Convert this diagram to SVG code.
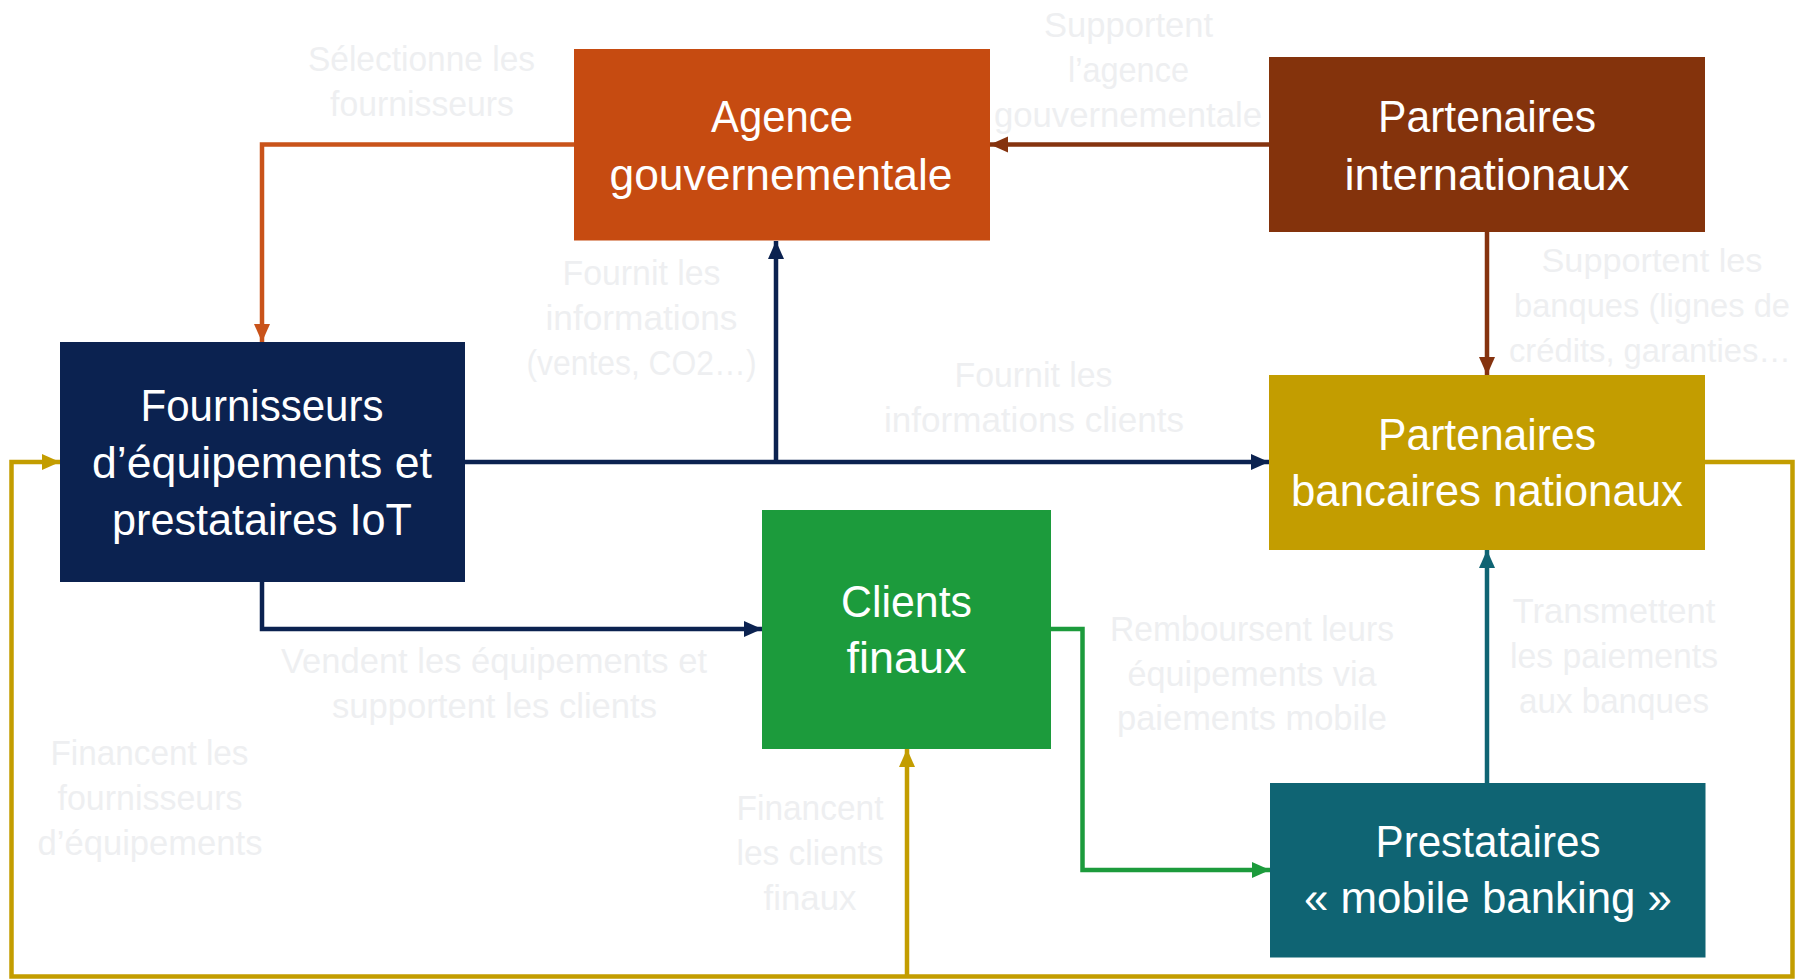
<svg xmlns="http://www.w3.org/2000/svg" width="1795" height="979" viewBox="0 0 1795 979">
<style>
.nt{font-family:"Liberation Sans",Arial,sans-serif;font-size:44px;fill:#FFFFFF;text-anchor:middle}
.el{font-family:"Liberation Sans",Arial,sans-serif;font-size:35px;fill:#EEEFF1;text-anchor:middle}
.sm{font-size:32.5px}
.c{fill:none;stroke-width:4.5;stroke-linejoin:miter}
</style>
<defs>
<marker id="aOr" markerUnits="userSpaceOnUse" markerWidth="20" markerHeight="20" viewBox="0 0 20 20" refX="18" refY="10" orient="auto"><path d="M0,2 L18,10 L0,18 Z" fill="#C9531A"/></marker>
<marker id="aBr" markerUnits="userSpaceOnUse" markerWidth="20" markerHeight="20" viewBox="0 0 20 20" refX="18" refY="10" orient="auto"><path d="M0,2 L18,10 L0,18 Z" fill="#85330F"/></marker>
<marker id="aNv" markerUnits="userSpaceOnUse" markerWidth="20" markerHeight="20" viewBox="0 0 20 20" refX="18" refY="10" orient="auto"><path d="M0,2 L18,10 L0,18 Z" fill="#0B2250"/></marker>
<marker id="aGr" markerUnits="userSpaceOnUse" markerWidth="20" markerHeight="20" viewBox="0 0 20 20" refX="18" refY="10" orient="auto"><path d="M0,2 L18,10 L0,18 Z" fill="#1C9B3C"/></marker>
<marker id="aTl" markerUnits="userSpaceOnUse" markerWidth="20" markerHeight="20" viewBox="0 0 20 20" refX="18" refY="10" orient="auto"><path d="M0,2 L18,10 L0,18 Z" fill="#0F6473"/></marker>
<marker id="aGd" markerUnits="userSpaceOnUse" markerWidth="20" markerHeight="20" viewBox="0 0 20 20" refX="18" refY="10" orient="auto"><path d="M0,2 L18,10 L0,18 Z" fill="#C39D00"/></marker>
</defs>
<rect width="1795" height="979" fill="#FFFFFF"/>

<g id="connectors">
<path class="c" stroke="#C9531A" d="M574,144.5 H262 V342" marker-end="url(#aOr)"/>
<path class="c" stroke="#85330F" d="M1269,144.5 H990" marker-end="url(#aBr)"/>
<path class="c" stroke="#85330F" d="M1487,232 V375" marker-end="url(#aBr)"/>
<path class="c" stroke="#0B2250" d="M465,462 H1269" marker-end="url(#aNv)"/>
<path class="c" stroke="#0B2250" d="M776,462 V241" marker-end="url(#aNv)"/>
<path class="c" stroke="#0B2250" d="M262,582 V629 H762" marker-end="url(#aNv)"/>
<path class="c" stroke="#1C9B3C" d="M1051,629 H1082.5 V870 H1270" marker-end="url(#aGr)"/>
<path class="c" stroke="#0F6473" d="M1487,783 V550" marker-end="url(#aTl)"/>
<path class="c" stroke="#C39D00" stroke-width="3.5" d="M1705,462 H1792.5 V976.5 H11.5 V462 H60" marker-end="url(#aGd)"/>
<path class="c" stroke="#C39D00" stroke-width="3.5" d="M907,976.5 V749" marker-end="url(#aGd)"/>
</g>

<g id="agence">
<rect x="574" y="49" width="416" height="191.5" fill="#C64B11"/>
<text class="nt" x="782" y="131.5" textLength="142" lengthAdjust="spacingAndGlyphs">Agence</text>
<text class="nt" x="781" y="190" textLength="343" lengthAdjust="spacingAndGlyphs">gouvernementale</text>
</g>

<g id="internationaux">
<rect x="1269" y="57" width="436" height="175" fill="#84330C"/>
<text class="nt" x="1487" y="131.5" textLength="218" lengthAdjust="spacingAndGlyphs">Partenaires</text>
<text class="nt" x="1487" y="189.5" textLength="285" lengthAdjust="spacingAndGlyphs">internationaux</text>
</g>

<g id="bancaires">
<rect x="1269" y="375" width="436" height="175" fill="#C39D00"/>
<text class="nt" x="1487" y="449.5" textLength="218" lengthAdjust="spacingAndGlyphs">Partenaires</text>
<text class="nt" x="1487" y="506" textLength="392" lengthAdjust="spacingAndGlyphs">bancaires nationaux</text>
</g>

<g id="fournisseurs">
<rect x="60" y="342" width="405" height="240" fill="#0B2250"/>
<text class="nt" x="262" y="421" textLength="243" lengthAdjust="spacingAndGlyphs">Fournisseurs</text>
<text class="nt" x="262" y="477.5" textLength="340" lengthAdjust="spacingAndGlyphs">d’équipements et</text>
<text class="nt" x="262" y="535" textLength="300" lengthAdjust="spacingAndGlyphs">prestataires IoT</text>
</g>

<g id="clients">
<rect x="762" y="510" width="289" height="239" fill="#1C9B3C"/>
<text class="nt" x="906.5" y="617" textLength="131" lengthAdjust="spacingAndGlyphs">Clients</text>
<text class="nt" x="906.5" y="672.5" textLength="120" lengthAdjust="spacingAndGlyphs">finaux</text>
</g>

<g id="mobile">
<rect x="1270" y="783" width="435.5" height="174.5" fill="#0F6473"/>
<text class="nt" x="1488" y="856.5" textLength="225" lengthAdjust="spacingAndGlyphs">Prestataires</text>
<text class="nt" x="1488" y="913" textLength="368" lengthAdjust="spacingAndGlyphs">« mobile banking »</text>
</g>

<g id="labels">
<text class="el" x="421.5" y="70.5" textLength="227" lengthAdjust="spacingAndGlyphs">Sélectionne les</text>
<text class="el" x="422" y="115.5" textLength="184" lengthAdjust="spacingAndGlyphs">fournisseurs</text>

<text class="el" x="1128.5" y="36.5" textLength="169" lengthAdjust="spacingAndGlyphs">Supportent</text>
<text class="el" x="1128.5" y="81.5" textLength="121" lengthAdjust="spacingAndGlyphs">l’agence</text>
<text class="el" x="1128" y="127" textLength="268" lengthAdjust="spacingAndGlyphs">gouvernementale</text>

<text class="el sm" x="1652" y="271.5" textLength="221" lengthAdjust="spacingAndGlyphs">Supportent les</text>
<text class="el sm" x="1652" y="316.5" textLength="276" lengthAdjust="spacingAndGlyphs">banques (lignes de</text>
<text class="el sm" x="1650" y="361.5" textLength="282" lengthAdjust="spacingAndGlyphs">crédits, garanties…</text>

<text class="el" x="641.5" y="285" textLength="158" lengthAdjust="spacingAndGlyphs">Fournit les</text>
<text class="el" x="641.5" y="330" textLength="192" lengthAdjust="spacingAndGlyphs">informations</text>
<text class="el" x="641.5" y="375" textLength="230" lengthAdjust="spacingAndGlyphs">(ventes, CO2…)</text>

<text class="el" x="1033.5" y="386.5" textLength="158" lengthAdjust="spacingAndGlyphs">Fournit les</text>
<text class="el" x="1034" y="431.5" textLength="300" lengthAdjust="spacingAndGlyphs">informations clients</text>

<text class="el" x="494" y="673" textLength="426" lengthAdjust="spacingAndGlyphs">Vendent les équipements et</text>
<text class="el" x="494.5" y="718" textLength="325" lengthAdjust="spacingAndGlyphs">supportent les clients</text>

<text class="el" x="149.5" y="765" textLength="198" lengthAdjust="spacingAndGlyphs">Financent les</text>
<text class="el" x="150" y="810" textLength="185" lengthAdjust="spacingAndGlyphs">fournisseurs</text>
<text class="el" x="150" y="855" textLength="225" lengthAdjust="spacingAndGlyphs">d’équipements</text>

<text class="el" x="810" y="819.5" textLength="147" lengthAdjust="spacingAndGlyphs">Financent</text>
<text class="el" x="810" y="865" textLength="147" lengthAdjust="spacingAndGlyphs">les clients</text>
<text class="el" x="810" y="910" textLength="93" lengthAdjust="spacingAndGlyphs">finaux</text>

<text class="el" x="1252" y="641" textLength="284" lengthAdjust="spacingAndGlyphs">Remboursent leurs</text>
<text class="el" x="1252" y="685.5" textLength="249" lengthAdjust="spacingAndGlyphs">équipements via</text>
<text class="el" x="1252" y="730" textLength="270" lengthAdjust="spacingAndGlyphs">paiements mobile</text>

<text class="el" x="1614" y="623" textLength="203" lengthAdjust="spacingAndGlyphs">Transmettent</text>
<text class="el" x="1614" y="668" textLength="208" lengthAdjust="spacingAndGlyphs">les paiements</text>
<text class="el" x="1614" y="713" textLength="190" lengthAdjust="spacingAndGlyphs">aux banques</text>
</g>
</svg>
